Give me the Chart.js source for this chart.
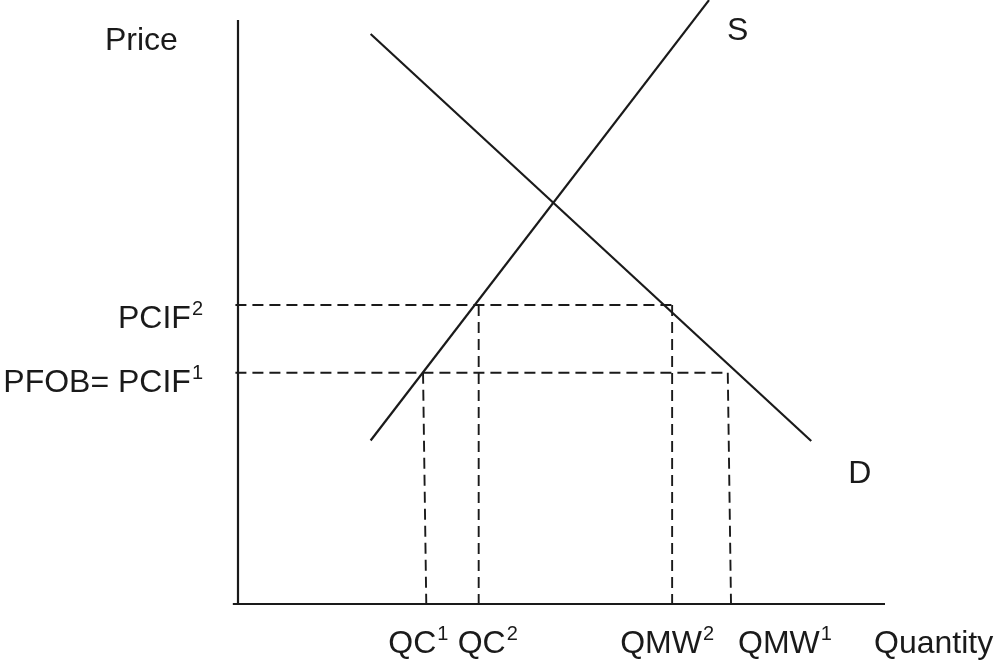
<!DOCTYPE html>
<html>
<head>
<meta charset="utf-8">
<script src="https://cdn.jsdelivr.net/npm/chart.js@4"></script>
<style>
  body { margin: 0; background: #fff; }
  #wrap { width: 998px; height: 663px; }
</style>
</head>
<body>
<div id="wrap"><canvas id="myChart"></canvas></div>
<script>
// supply / demand (quantity 0-100, price 0-100)
var supplyQ = [20.5, 72.8];
var supplyP = [28.0, 103.4];
var demandQ = [20.5, 88.6];
var demandP = [97.6, 27.9];

// price levels on the vertical axis
var priceNames = ['PCIF', 'PFOB= PCIF'];
var priceSups = ['2', '1'];
var priceLevels = [51.2, 39.6];
var priceEnds = [67.1, 75.7];   // where the dashed price line stops

// quantities on the horizontal axis (dashed lines lean a little)
var qtyNames = ['QC', 'QC', 'QMW', 'QMW'];
var qtySups = ['1', '2', '2', '1'];
var qtyTop = [28.6, 37.2, 67.1, 75.7];
var qtyBottom = [29.1, 37.2, 67.1, 76.2];
var qtyFrom = [1, 0, 0, 1];     // index into priceLevels

var ink = '#1a1a1a';
var FONT = '"Liberation Sans", Arial, sans-serif';

function seg(pts, dashed, width) {
  return {
    data: pts,
    showLine: true,
    borderColor: ink,
    borderWidth: width,
    borderDash: dashed ? [11, 6] : [],
    pointRadius: 0,
    fill: false,
    clip: false
  };
}

var datasets = [];
// axes
datasets.push(seg([{x: 0, y: 0}, {x: 0, y: 100}], false, 2.2));
datasets.push(seg([{x: -0.8, y: 0}, {x: 100, y: 0}], false, 2.2));
// curves
datasets.push(seg(supplyQ.map(function (q, i) { return {x: q, y: supplyP[i]}; }), false, 2.2));
datasets.push(seg(demandQ.map(function (q, i) { return {x: q, y: demandP[i]}; }), false, 2.2));
// dashed guides
for (var i = 0; i < priceLevels.length; i++) {
  datasets.push(seg([{x: -0.4, y: priceLevels[i]}, {x: priceEnds[i], y: priceLevels[i]}], true, 1.9));
}
for (var j = 0; j < qtyTop.length; j++) {
  datasets.push(seg([{x: qtyTop[j], y: priceLevels[qtyFrom[j]]}, {x: qtyBottom[j], y: 0}], true, 1.9));
}

function drawSup(ctx, base, sup, x, y, align) {
  ctx.font = '32px ' + FONT;
  var wb = ctx.measureText(base).width;
  ctx.font = '20px ' + FONT;
  var ws = sup ? ctx.measureText(sup).width + 1 : 0;
  var start = align === 'right' ? x - wb - ws : x;
  ctx.textAlign = 'left';
  ctx.font = '32px ' + FONT;
  ctx.fillText(base, start, y);
  if (sup) {
    ctx.font = '20px ' + FONT;
    ctx.fillText(sup, start + wb + 1, y - 13);
  }
}

var textPlugin = {
  id: 'texts',
  afterDraw: function (chart) {
    var ctx = chart.ctx, xs = chart.scales.x, ys = chart.scales.y;
    var x0 = xs.getPixelForValue(0), y0 = ys.getPixelForValue(0);
    ctx.save();
    ctx.fillStyle = ink;
    ctx.textBaseline = 'alphabetic';
    // axis titles
    drawSup(ctx, 'Price', '', x0 - 133, 50, 'left');
    drawSup(ctx, 'Quantity', '', xs.getPixelForValue(98.3), y0 + 49, 'left');
    // curve names
    drawSup(ctx, 'S', '', xs.getPixelForValue(supplyQ[1]) + 18, 40, 'left');
    drawSup(ctx, 'D', '', xs.getPixelForValue(demandQ[1]) + 37, ys.getPixelForValue(demandP[1]) + 42, 'left');
    // price labels
    var pOff = [23, 19];
    for (var i = 0; i < priceLevels.length; i++) {
      drawSup(ctx, priceNames[i], priceSups[i], x0 - 35, ys.getPixelForValue(priceLevels[i]) + pOff[i], 'right');
    }
    // quantity labels
    var qOff = [-38, -21, -52, 7];
    for (var j = 0; j < qtyNames.length; j++) {
      drawSup(ctx, qtyNames[j], qtySups[j], xs.getPixelForValue(qtyBottom[j]) + qOff[j], y0 + 49, 'left');
    }
    ctx.restore();
  }
};

var ctx = document.getElementById('myChart').getContext('2d');
var myChart = new Chart(ctx, {
  type: 'scatter',
  data: { datasets: datasets },
  options: {
    responsive: true,
    maintainAspectRatio: false,
    animation: false,
    layout: { padding: { left: 238, right: 113, top: 20, bottom: 59 } },
    plugins: { legend: { display: false }, tooltip: { enabled: false } },
    scales: {
      x: { type: 'linear', min: 0, max: 100, display: false },
      y: { type: 'linear', min: 0, max: 100, display: false }
    }
  },
  plugins: [textPlugin]
});
</script>
</body>
</html>
